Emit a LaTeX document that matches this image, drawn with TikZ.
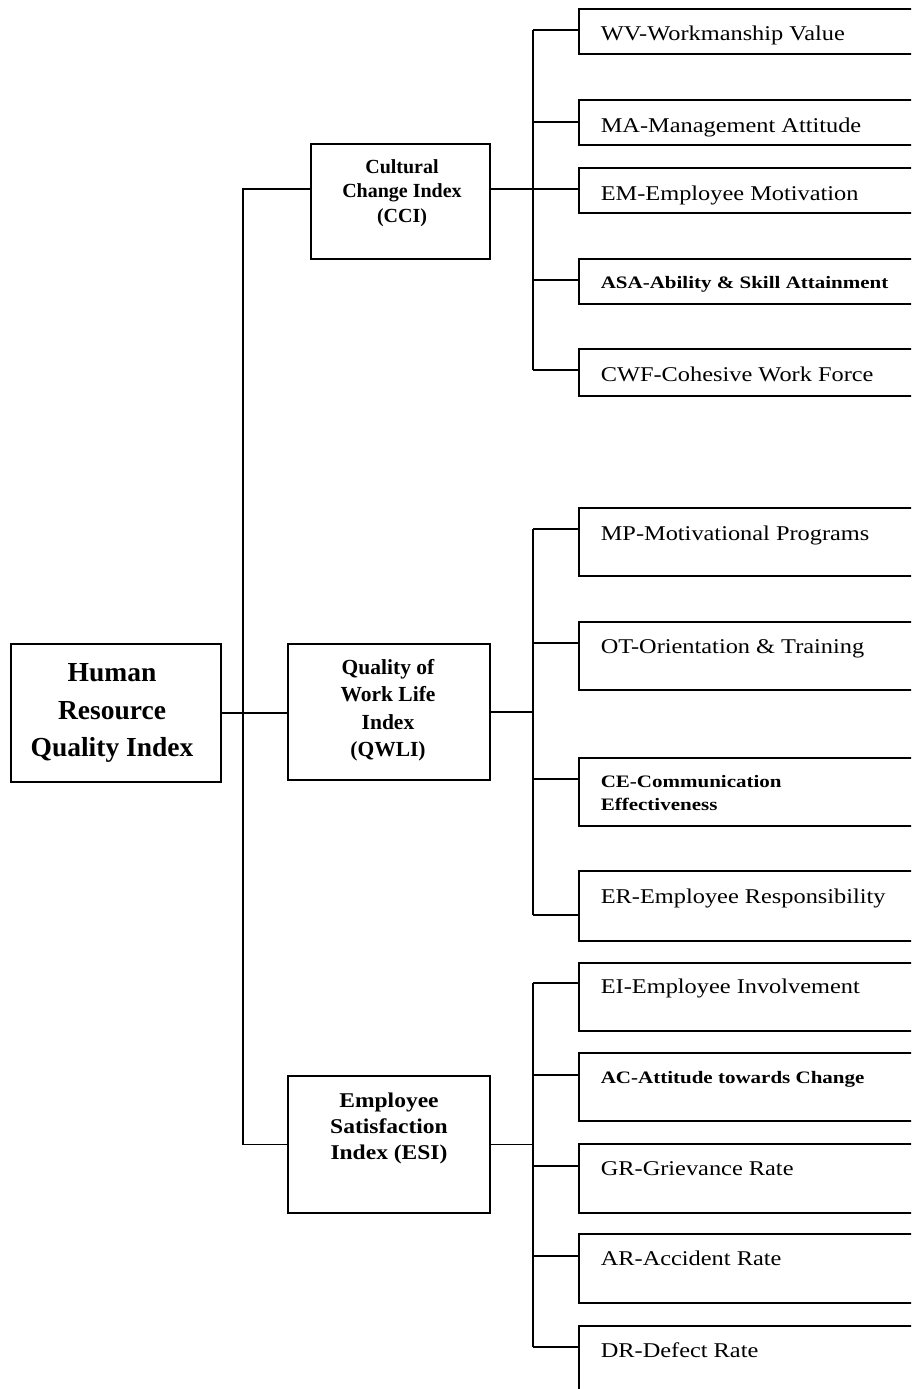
\documentclass[tikz,border=0pt]{standalone}
\usepackage{fontspec}
\setmainfont{Liberation Serif}
\newfontfamily\widerm{Liberation Serif}[FakeStretch=1.16]
\newfontfamily\widebf{Liberation Serif}[FakeStretch=1.2]
\newfontfamily\esifont{Liberation Serif}[FakeStretch=1.12]
\begin{document}
\begin{tikzpicture}[x=1pt,y=-1pt,
  line width=1.6pt,
  box/.style={draw, rectangle, inner sep=0pt, anchor=north west},
  leaf/.style={box, minimum width=360pt},
  lab/.style={inner sep=0pt, align=center},
  ltxt/.style={inner sep=0pt, anchor=base west, font=\widerm\fontsize{21}{24}\selectfont},
  btxt/.style={inner sep=0pt, anchor=base west, align=left, font=\widebf\bfseries\fontsize{17.5}{23}\selectfont}
]
\useasboundingbox (0,0) rectangle (911,1389);
\clip (0,0) rectangle (911,1389);

% --- root and the three indices ---
\node[box, minimum width=210pt, minimum height=138pt] (hrqi) at (10,643) {};
\node[lab, font=\bfseries\fontsize{27.5}{37.5}\selectfont] (hrqiT) at (112,713) {Human\\Resource\\Quality Index};

\node[box, minimum width=179pt, minimum height=115pt] (cci) at (310,143) {};
\node[lab, font=\bfseries\fontsize{20}{24.5}\selectfont] (cciT) at (402,193) {Cultural\\Change Index\\(CCI)};

\node[box, minimum width=202pt, minimum height=136pt] (qwli) at (287,643) {};
\node[lab, font=\bfseries\fontsize{21.5}{27.5}\selectfont] (qwliT) at (388,710) {Quality of\\Work Life\\Index\\(QWLI)};

\node[box, minimum width=202pt, minimum height=137pt] (esi) at (287,1075) {};
\node[lab, font=\esifont\bfseries\fontsize{21}{26}\selectfont] (esiT) at (389,1128) {Employee\\Satisfaction\\Index (ESI)};

% --- leaf boxes (open to the right edge) ---
\node[leaf, minimum height=45pt] (wv)  at (578,8)   {};
\node[leaf, minimum height=45pt] (ma)  at (578,99)  {};
\node[leaf, minimum height=45pt] (em)  at (578,167) {};
\node[leaf, minimum height=45pt] (asa) at (578,258) {};
\node[leaf, minimum height=47pt] (cwf) at (578,348) {};

\node[leaf, minimum height=68pt] (mp)  at (578,507) {};
\node[leaf, minimum height=68pt] (ot)  at (578,621) {};
\node[leaf, minimum height=68pt] (ce)  at (578,757) {};
\node[leaf, minimum height=70pt] (er)  at (578,870) {};

\node[leaf, minimum height=68pt] (ei)  at (578,962)  {};
\node[leaf, minimum height=68pt] (ac)  at (578,1052) {};
\node[leaf, minimum height=69pt] (gr)  at (578,1143) {};
\node[leaf, minimum height=69pt] (ar)  at (578,1233) {};
\node[leaf, minimum height=100pt] (dr) at (578,1325) {};

% --- leaf labels ---
\node[ltxt] (wvT)  at ([shift={(22,33)}]wv.north west)  {WV-Workmanship Value};
\node[ltxt] (maT)  at ([shift={(22,33)}]ma.north west)  {MA-Management Attitude};
\node[ltxt] (emT)  at ([shift={(22,33)}]em.north west)  {EM-Employee Motivation};
\node[btxt] (asaT) at ([shift={(22,30)}]asa.north west) {ASA-Ability \& Skill Attainment};
\node[ltxt] (cwfT) at ([shift={(22,33)}]cwf.north west) {CWF-Cohesive Work Force};

\node[ltxt] (mpT)  at ([shift={(22,33)}]mp.north west)  {MP-Motivational Programs};
\node[ltxt] (otT)  at ([shift={(22,32)}]ot.north west)  {OT-Orientation \& Training};
\node[btxt] (ceT)  at ([shift={(22,53)}]ce.north west)  {CE-Communication\\Effectiveness};
\node[ltxt] (erT)  at ([shift={(22,33)}]er.north west)  {ER-Employee Responsibility};

\node[ltxt] (eiT)  at ([shift={(22,31)}]ei.north west)  {EI-Employee Involvement};
\node[btxt] (acT)  at ([shift={(22,31)}]ac.north west)  {AC-Attitude towards Change};
\node[ltxt] (grT)  at ([shift={(22,32)}]gr.north west)  {GR-Grievance Rate};
\node[ltxt] (arT)  at ([shift={(22,32)}]ar.north west)  {AR-Accident Rate};
\node[ltxt] (drT)  at ([shift={(22,32)}]dr.north west)  {DR-Defect Rate};

% --- main spine ---
\coordinate (hub) at (243,711);
\coordinate (ccirow) at (0,189);
\draw (hrqi.east) -- (hrqi.east -| qwli.west);
\draw (cci.west |- ccirow) -| (hub) |- (esi.west);

% --- CCI branch ---
\foreach \n/\c in {wv/30,ma/122,em/189,asa/280,cwf/370}{
  \coordinate (\n j) at (533,\c);
  \draw (\n j) -- (\n j -| \n.west);
}
\draw (wvj) -- (cwfj);
\draw (cci.east |- emj) -- (emj);

% --- QWLI branch ---
\foreach \n/\c in {mp/529,ot/643,ce/779,er/915}{
  \coordinate (\n j) at (533,\c);
  \draw (\n j) -- (\n j -| \n.west);
}
\draw (mpj) -- (erj);
\draw (qwli.east) -- (qwli.east -| mpj);

% --- ESI branch ---
\foreach \n/\c in {ei/983,ac/1075,gr/1166,ar/1256,dr/1347}{
  \coordinate (\n j) at (533,\c);
  \draw (\n j) -- (\n j -| \n.west);
}
\draw (eij) -- (drj);
\draw (esi.east) -- (esi.east -| eij);
\end{tikzpicture}
\end{document}
